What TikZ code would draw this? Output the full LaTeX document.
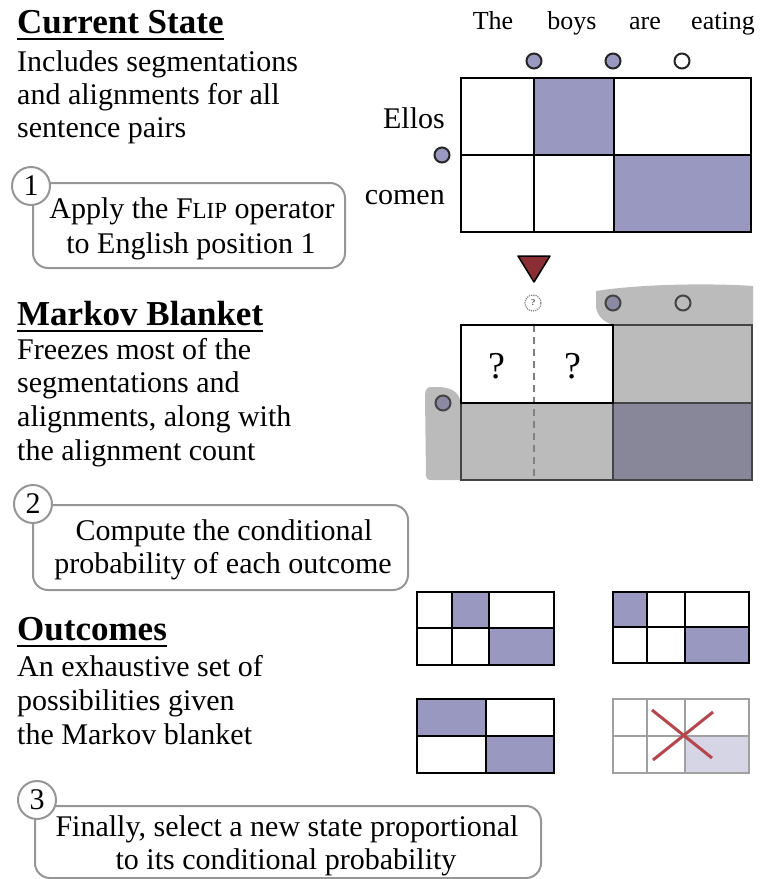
\documentclass[tikz,border=0pt]{standalone}
\usepackage{fontspec}
\setmainfont{Liberation Serif}
\usetikzlibrary{calc}
\definecolor{cellp}{RGB}{152,152,192}
\definecolor{boxgray}{RGB}{150,150,150}
\definecolor{blobgray}{RGB}{187,187,187}
\definecolor{darkcell}{RGB}{135,135,153}
\definecolor{mbdot}{RGB}{138,138,162}
\definecolor{mbline}{RGB}{68,68,68}
\definecolor{trired}{RGB}{139,46,51}
\definecolor{xred}{RGB}{180,70,76}
\definecolor{lightp}{RGB}{213,213,230}
\definecolor{dgray}{RGB}{160,160,160}
\begin{document}
\begin{tikzpicture}[x=1pt,y=-1pt,
  txt/.style={inner sep=0pt, anchor=base west, font=\fontsize{30}{33}\selectfont},
  head/.style={inner sep=0pt, anchor=base west, font=\fontsize{35}{38}\selectfont\bfseries},
  ctxt/.style={inner sep=0pt, anchor=base, font=\fontsize{30}{33}\selectfont},
  word/.style={inner sep=0pt, anchor=base, font=\fontsize{26}{29}\selectfont},
  sword/.style={inner sep=0pt, anchor=base east, font=\fontsize{30}{33}\selectfont},
  callout/.style={draw=boxgray, line width=2pt, rounded corners=15pt},
  numcirc/.style={circle, draw=boxgray, line width=2pt, fill=white, minimum size=38pt, inner sep=0pt, font=\fontsize{30}{33}\selectfont},
  gridline/.style={line width=2pt, draw=black},
  dotp/.style={circle, draw=black!85, line width=2pt, fill=cellp, minimum size=15pt, inner sep=0pt},
  dotw/.style={circle, draw=black!85, line width=2pt, fill=white, minimum size=15pt, inner sep=0pt},
  mbdotp/.style={circle, draw=mbline, line width=2pt, fill=mbdot, minimum size=15pt, inner sep=0pt},
  mbdotw/.style={circle, draw=mbline, line width=2pt, fill=blobgray, minimum size=15pt, inner sep=0pt},
  ulinestyle/.style={line width=2.6pt}
]
\useasboundingbox (0,0) rectangle (768,879);

% ---------- Left texts ----------
\node[head] (h1) at (17,33) {Current State};
\draw[ulinestyle] ($(h1.base west)+(0,6)$) -- ($(h1.base east)+(0,6)$);
\node[txt] (t11) at (17,71) {Includes segmentations};
\node[txt] (t12) at (17,104) {and alignments for all};
\node[txt] (t13) at (17,137) {sentence pairs};

\node[head] (h2) at (17,325) {Markov Blanket};
\draw[ulinestyle] ($(h2.base west)+(0,6)$) -- ($(h2.base east)+(0,6)$);
\node[txt] (t21) at (17,359) {Freezes most of the};
\node[txt] (t22) at (17,392) {segmentations and};
\node[txt] (t23) at (17,426) {alignments, along with};
\node[txt] (t24) at (17,460) {the alignment count};

\node[head] (h3) at (17,640) {Outcomes};
\draw[ulinestyle] ($(h3.base west)+(0,6)$) -- ($(h3.base east)+(0,6)$);
\node[txt] (t31) at (17,676) {An exhaustive set of};
\node[txt] (t32) at (17,710) {possibilities given};
\node[txt] (t33) at (17,744) {the Markov blanket};

% ---------- Callouts ----------
\draw[callout] (33,183) rectangle (345,268);
\node[numcirc] (n1) at (31,186) {1};
\node[ctxt] (c11) at (192,218) {Apply the F{\fontsize{23}{26}\selectfont LIP} operator};
\node[ctxt] (c12) at (191,253) {to English position 1};

\draw[callout] (33,505) rectangle (408,590);
\node[numcirc] (n2) at (33,504) {2};
\node[ctxt] (c21) at (224,540) {Compute the conditional};
\node[ctxt] (c22) at (223,573) {probability of each outcome};

\draw[callout] (35,806) rectangle (541,878);
\node[numcirc] (n3) at (37,800) {3};
\node[ctxt] (c31) at (287,836) {Finally, select a new state proportional};
\node[ctxt] (c32) at (286,869) {to its conditional probability};

% ---------- Current state grid ----------
\node[word] (wThe) at (493,29) {The};
\node[word] (wboys) at (572,29) {boys};
\node[word] (ware) at (645,29) {are};
\node[word] (weating) at (723,29) {eating};
\node[sword] (wEllos) at (445,128) {Ellos};
\node[sword] (wcomen) at (445,204) {comen};

\fill[cellp] (534,78) rectangle (614,155);
\fill[cellp] (614,155) rectangle (751,232);
\draw[gridline] (461,78) rectangle (751,232);
\draw[gridline] (534,78) -- (534,232);
\draw[gridline] (614,78) -- (614,232);
\draw[gridline] (461,155) -- (751,155);

\node[dotp] (e1) at (534,61) {};
\node[dotp] (e2) at (613,61) {};
\node[dotw] (e3) at (682,61) {};
\node[dotp] (s1) at (442,155) {};

% ---------- Triangle ----------
\filldraw[fill=trired, draw=black, line width=1.5pt, line join=round] (518,256) -- (550,256) -- (534,282) -- cycle;

% ---------- Markov blanket ----------
\fill[blobgray] (596,291) .. controls (640,284) and (710,283) .. (753,286) -- (753,325) -- (613,325)
  .. controls (604,322) and (597,316) .. (596,307) -- cycle;
\fill[blobgray] (461,403) .. controls (459,393) and (453,388) .. (440,387) -- (431,387)
  .. controls (427,387) and (425,390) .. (425,396) -- (426,476) .. controls (426,479) and (428,480) .. (432,480) -- (461,480) -- cycle;

\fill[blobgray] (613,325) rectangle (752,403);
\fill[blobgray] (461,403) rectangle (613,480);
\fill[darkcell] (613,403) rectangle (752,480);
\fill[white] (461,325) rectangle (613,403);
\draw[gray, line width=1.8pt, dashed, dash pattern=on 7pt off 5pt] (534,325) -- (534,480);
\draw[mbline, line width=2pt] (461,325) rectangle (752,480);
\draw[mbline, line width=2pt] (613,325) -- (613,480);
\draw[mbline, line width=2pt] (461,403) -- (752,403);
\draw[black, line width=2pt] (461,325) rectangle (613,403);

\node[inner sep=0pt, anchor=base, font=\fontsize{38}{40}\selectfont] (q1) at (497,378) {?};
\node[inner sep=0pt, anchor=base, font=\fontsize{38}{40}\selectfont] (q2) at (573,378) {?};
\node[circle, draw=gray, densely dotted, line width=1.2pt, minimum size=16pt, inner sep=0pt, font=\fontsize{9}{9}\selectfont] (qd) at (533,303) {?};

\node[mbdotp] (m1) at (613,303) {};
\node[mbdotw] (m2) at (683,303) {};
\node[mbdotp] (m3) at (443,403) {};

% ---------- Outcomes ----------
% A
\fill[cellp] (452,592) rectangle (489,628);
\fill[cellp] (489,628) rectangle (554,665);
\draw[gridline] (417,592) rectangle (554,665);
\draw[gridline] (452,592) -- (452,665);
\draw[gridline] (489,592) -- (489,665);
\draw[gridline] (417,628) -- (554,628);
% B
\fill[cellp] (613,592) rectangle (647,627);
\fill[cellp] (685,627) rectangle (749,663);
\draw[gridline] (613,592) rectangle (749,663);
\draw[gridline] (647,592) -- (647,663);
\draw[gridline] (685,592) -- (685,663);
\draw[gridline] (613,627) -- (749,627);
% C
\fill[cellp] (417,699) rectangle (486,736);
\fill[cellp] (486,736) rectangle (554,773);
\draw[gridline] (417,699) rectangle (554,773);
\draw[gridline] (486,699) -- (486,773);
\draw[gridline] (417,736) -- (554,736);
% D
\fill[lightp] (685,736) rectangle (749,773);
\draw[dgray, line width=2pt] (613,699) rectangle (749,773);
\draw[dgray, line width=2pt] (647,699) -- (647,773);
\draw[dgray, line width=2pt] (685,699) -- (685,773);
\draw[dgray, line width=2pt] (613,736) -- (749,736);
\draw[xred, line width=3pt] (652,710) -- (712,758);
\draw[xred, line width=3pt] (713,712) -- (653,760);
\end{tikzpicture}
\end{document}
